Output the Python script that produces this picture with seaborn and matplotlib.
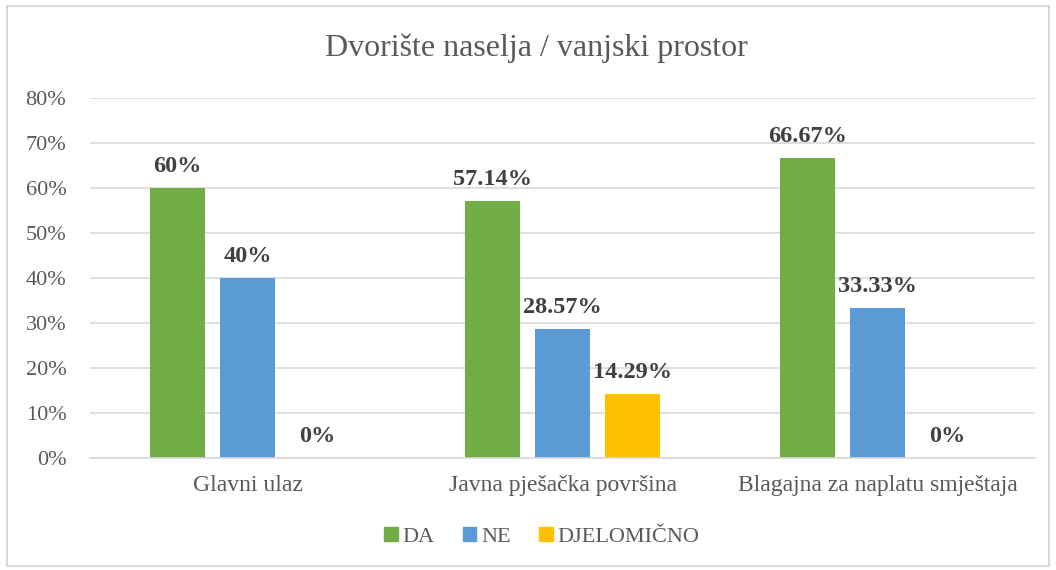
import matplotlib
matplotlib.use("Agg")
import matplotlib.pyplot as plt
import seaborn as sns
import pandas as pd
from matplotlib.patches import Rectangle

# data
categories = ["Glavni ulaz", "Javna pješačka površina", "Blagajna za naplatu smještaja"]
answers = ["DA", "NE", "DJELOMIČNO"]
da_values = [60, 57.14, 66.67]
ne_values = [40, 28.57, 33.33]
djelomicno_values = [0, 14.29, 0]
colors = ["#70AD47", "#5B9BD5", "#FFC000"]

df = pd.DataFrame({
    "kategorija": categories * 3,
    "odgovor": [a for a in answers for _ in categories],
    "postotak": da_values + ne_values + djelomicno_values,
})

sns.set_style("white")
plt.rcParams["font.family"] = ["Liberation Serif", "DejaVu Serif"]
text_color = "#595959"
grid_color = "#D9D9D9"

fig = plt.figure(figsize=(10.56, 5.70), dpi=100)
ax = fig.add_axes([0.0852, 0.1965, 0.895, 0.6315])

sns.barplot(data=df, x="kategorija", y="postotak", hue="odgovor",
            hue_order=answers, palette=colors, width=0.667, gap=0.214,
            saturation=1, linewidth=0, ax=ax, legend=True)

ax.set_ylim(0, 80)
ax.set_yticks(range(0, 81, 10))
ax.set_yticklabels([f"{t}%" for t in range(0, 81, 10)], fontsize=16, color=text_color)
ax.tick_params(axis="x", labelsize=17, labelcolor=text_color, length=0, pad=12)
ax.tick_params(axis="y", length=0, pad=17)
ax.set_xlabel("")
ax.set_ylabel("")
ax.yaxis.grid(True, color=grid_color, linewidth=1.2)
ax.set_axisbelow(True)
for s in ["left", "right", "top"]:
    ax.spines[s].set_visible(False)
ax.spines["bottom"].set_color(grid_color)
ax.spines["bottom"].set_linewidth(1.2)

for cont in ax.containers:
    ax.bar_label(cont, labels=[f"{v:g}%" for v in cont.datavalues],
                 padding=8, fontsize=17.5, fontweight="bold", color="#404040")

ax.get_legend().remove()
handles = [Rectangle((0, 0), 1, 1, color=c) for c in colors]
fig.legend(handles, answers, loc="center", bbox_to_anchor=(0.513, 0.058),
           ncol=3, frameon=False, fontsize=16, handlelength=0.6,
           handleheight=0.6, handletextpad=0.2, columnspacing=1.3,
           labelcolor=text_color)

fig.text(0.508, 0.916, "Dvorište naselja / vanjski prostor", ha="center",
         va="center", fontsize=23, color=text_color)

fig.patches.append(Rectangle((0.007, 0.007), 0.986, 0.983, transform=fig.transFigure,
                             fill=False, edgecolor=grid_color, linewidth=1.5))

fig.savefig("out.png", dpi=100)
